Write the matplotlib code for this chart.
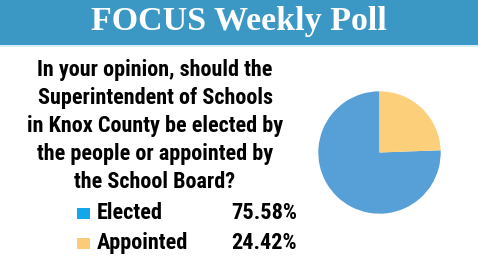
import matplotlib
matplotlib.use("Agg")
from matplotlib import pyplot as plt
from matplotlib.patches import Rectangle

W, H = 478, 266

title = "FOCUS Weekly Poll"
question = ["In your opinion, should the",
            "Superintendent of Schools",
            "in Knox County be elected by",
            "the people or appointed by",
            "the School Board?"]
labels = ["Elected", "Appointed"]
shares = [75.58, 24.42]
pie_colors = ["#579fd7", "#fccf7b"]
key_colors = ["#14a6ea", "#fccb78"]

narrow = ["Roboto Condensed", "DejaVu Sans"]


def fx(px):
    return px / W


def fy(py):
    return 1 - py / H


fig = plt.figure(figsize=(W / 100, H / 100), dpi=100)
fig.patch.set_facecolor("white")

# header band
fig.patches.append(Rectangle((0, fy(45)), 1, 45 / H, transform=fig.transFigure,
                             facecolor="#3b98c5", edgecolor="none"))
fig.patches.append(Rectangle((0, fy(47)), 1, 2 / H, transform=fig.transFigure,
                             facecolor="#d8eef5", edgecolor="none"))
fig.text(0.5, fy(22), title, ha="center", va="center", color="white",
         fontsize=24.5, fontweight="bold", family="Liberation Serif")

# question
for i, line in enumerate(question):
    fig.text(fx(155), fy(70 + i * 28), line, ha="center", va="center",
             fontsize=15.9, fontweight="bold", family=narrow, color="black")

# legend with values
for i, (lab, val) in enumerate(zip(labels, shares)):
    y = 213 + i * 30
    fig.patches.append(Rectangle((fx(77), fy(y + 6)), 13 / W, 11 / H,
                                 transform=fig.transFigure,
                                 facecolor=key_colors[i], edgecolor="none"))
    fig.text(fx(97), fy(y), lab, ha="left", va="center", fontsize=16,
             fontweight="bold", family=narrow)
    fig.text(fx(297), fy(y), "{:.2f}%".format(val), ha="right", va="center",
             fontsize=16, fontweight="bold", family=narrow)

# pie
ax = fig.add_axes([fx(303), fy(229), 153 / W, 153 / H])
ax.pie(shares, colors=pie_colors, startangle=90, counterclock=True,
       wedgeprops={"linewidth": 0})
ax.set_aspect("equal")
ax.axis("off")

fig.savefig("out.png", dpi=100)
